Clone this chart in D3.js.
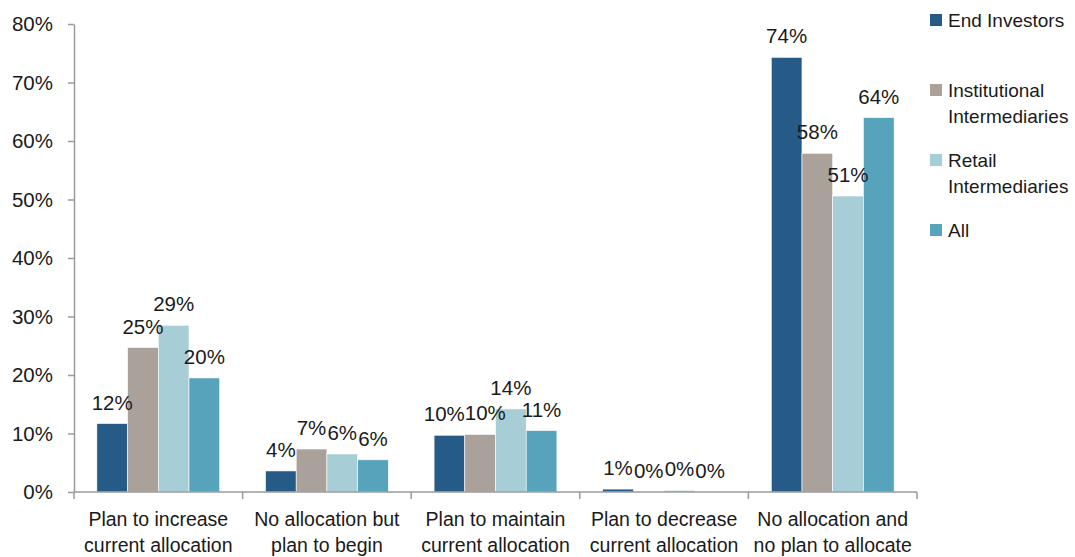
<!DOCTYPE html>
<html><head><meta charset="utf-8">
<script src="https://cdn.jsdelivr.net/npm/d3@7"></script>
<style>
html,body{margin:0;padding:0;background:#fff;}
svg{display:block;font-family:"Liberation Sans",Arial,sans-serif;}
</style></head>
<body><svg id="chart" width="1075" height="557"></svg>
<script>
const categories = [
  ["Plan to increase","current allocation"],
  ["No allocation but","plan to begin"],
  ["Plan to maintain","current allocation"],
  ["Plan to decrease","current allocation"],
  ["No allocation and","no plan to allocate"]
];
const seriesNames = ["End Investors","Institutional Intermediaries","Retail Intermediaries","All"];
const legendLines = [["End Investors"],["Institutional","Intermediaries"],["Retail","Intermediaries"],["All"]];
const endInvestors = [0.117, 0.036, 0.097, 0.005, 0.743];
const institutional = [0.247, 0.0735, 0.0985, 0.0, 0.579];
const retail = [0.285, 0.065, 0.142, 0.003, 0.506];
const allResp = [0.195, 0.055, 0.105, 0.0, 0.640];
const labelsEnd = ["12%","4%","10%","1%","74%"];
const labelsInst = ["25%","7%","10%","0%","58%"];
const labelsRetail = ["29%","6%","14%","0%","51%"];
const labelsAll = ["20%","6%","11%","0%","64%"];
const yTicks = [0,0.1,0.2,0.3,0.4,0.5,0.6,0.7,0.8];
const yTickLabels = ["0%","10%","20%","30%","40%","50%","60%","70%","80%"];

const colors = ["#265a87","#aaa19b","#a7cdd7","#56a3bb"];
const values = [endInvestors, institutional, retail, allResp];
const labels = [labelsEnd, labelsInst, labelsRetail, labelsAll];

const svg = d3.select("#chart");
const plotLeft = 74, plotRight = 917, plotTop = 24, plotBottom = 492;
const FS_NUM = 20.5, FS_CAT = 19.5, FS_LEG = 19;
const textColor = "#1a1a1a";
const axisColor = "#9a9a9a";

const x0 = d3.scaleBand().domain(d3.range(categories.length)).range([plotLeft, plotRight]).paddingInner(0).paddingOuter(0);
const x1 = d3.scaleBand().domain(d3.range(seriesNames.length)).range([0, x0.bandwidth()]).paddingInner(0).paddingOuter(0.745);
const y = d3.scaleLinear().domain([0, 0.8]).range([plotBottom, plotTop]);

// y axis
const yAxis = d3.axisLeft(y).tickValues(yTicks).tickFormat((d,i)=>yTickLabels[i]).tickSize(6).tickPadding(15).tickSizeOuter(0);
const gy = svg.append("g").attr("transform", `translate(${plotLeft},0)`).call(yAxis);
gy.select(".domain").attr("stroke", axisColor).attr("stroke-width", 1.5);
gy.selectAll(".tick line").attr("stroke", axisColor).attr("stroke-width", 1.5);
gy.selectAll(".tick text").attr("fill", textColor).attr("font-size", FS_NUM).attr("font-family", "Liberation Sans, Arial, sans-serif");

// bars
const data = [];
categories.forEach((c, ci) => {
  seriesNames.forEach((s, si) => {
    data.push({ci, si, v: values[si][ci], label: labels[si][ci]});
  });
});

svg.append("g").selectAll("rect").data(data).join("rect")
  .attr("x", d => x0(d.ci) + x1(d.si))
  .attr("y", d => y(d.v))
  .attr("width", x1.bandwidth())
  .attr("height", d => y(0) - y(d.v))
  .attr("fill", d => colors[d.si])
  .attr("stroke", "#ffffff").attr("stroke-width", 0.6);

// x axis
svg.append("line").attr("x1", plotLeft).attr("x2", plotRight).attr("y1", plotBottom).attr("y2", plotBottom)
  .attr("stroke", axisColor).attr("stroke-width", 1.5);
const boundaries = d3.range(categories.length + 1).map(i => i < categories.length ? x0(i) : plotRight);
svg.append("g").selectAll("line").data(boundaries).join("line")
  .attr("x1", d => d).attr("x2", d => d).attr("y1", plotBottom).attr("y2", plotBottom + 7)
  .attr("stroke", axisColor).attr("stroke-width", 1.5);

// category labels
const cat = svg.append("g").selectAll("text").data(categories).join("text")
  .attr("x", (d, i) => x0(i) + x0.bandwidth() / 2)
  .attr("y", 526)
  .attr("text-anchor", "middle")
  .attr("font-size", FS_CAT).attr("fill", textColor);
cat.selectAll("tspan").data(d => d).join("tspan")
  .attr("x", function(){ return this.parentNode.getAttribute("x"); })
  .attr("dy", (d, i) => i === 0 ? 0 : 26)
  .text(d => d);

// data labels with simple overlap resolution
const lg = svg.append("g");
const lab = lg.selectAll("text").data(data).join("text")
  .attr("text-anchor", "middle")
  .attr("font-size", FS_NUM).attr("fill", textColor)
  .text(d => d.label);
lab.each(function(d){
  d.cx = x0(d.ci) + x1(d.si) + x1.bandwidth()/2;
  d.by = y(d.v) - 14;
  d.w = this.getComputedTextLength();
});
categories.forEach((c, ci) => {
  const grp = data.filter(d => d.ci === ci);
  for (let iter = 0; iter < 10; iter++) {
    for (let k = 1; k < grp.length; k++) {
      const a = grp[k-1], b = grp[k];
      if (Math.abs(a.by - b.by) < FS_NUM) {
        const overlap = (a.cx + a.w/2) - (b.cx - b.w/2);
        if (overlap > 0) { a.cx -= overlap/2; b.cx += overlap/2; }
      }
    }
  }
});
lab.attr("x", d => d.cx).attr("y", d => d.by);

// legend
const leg = svg.append("g");
const legY = [20, 90, 160, 230];
legendLines.forEach((lines, i) => {
  leg.append("rect").attr("x", 930).attr("y", legY[i] - 6).attr("width", 12).attr("height", 12).attr("fill", colors[i]);
  const t = leg.append("text").attr("x", 948).attr("y", legY[i] + 7).attr("font-size", FS_LEG).attr("fill", textColor);
  lines.forEach((ln, j) => {
    t.append("tspan").attr("x", 948).attr("dy", j === 0 ? 0 : 26).text(ln);
  });
});
</script>
</body></html>
